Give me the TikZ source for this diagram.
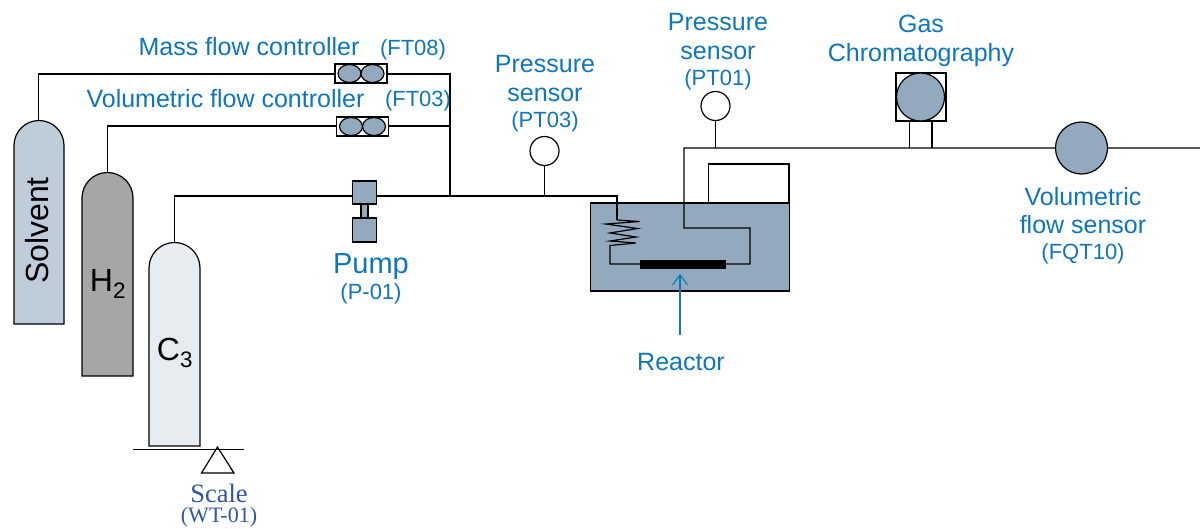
\documentclass[tikz,border=0pt]{standalone}
\usepackage{fontspec}
\setmainfont{Liberation Sans}
\newfontfamily\timesf{Liberation Serif}
\usetikzlibrary{arrows.meta,shapes.geometric}
\definecolor{steel}{HTML}{92A9BE}
\definecolor{solv}{HTML}{BFCDDB}
\definecolor{hyd}{HTML}{A6A6A6}
\definecolor{prop}{HTML}{E7ECF1}
\definecolor{lblue}{HTML}{0F75BD}
\definecolor{sblue}{HTML}{2F55A8}
\newcommand{\fsz}[1]{\fontsize{#1}{#1}\selectfont}
\tikzset{
  pipe/.style={draw=black,line width=1.2pt,line join=miter},
  tank/.style={draw=black,line width=1.2pt},
  valvebox/.style={draw=black,fill=white,line width=1.2pt,rectangle,minimum width=52pt,minimum height=19pt,inner sep=0pt},
  disc/.style={draw=black,fill=steel,line width=1.2pt,ellipse,minimum width=23pt,minimum height=18pt,inner sep=0pt},
  gauge/.style={draw=black,fill=white,line width=1.2pt,circle,minimum size=29pt,inner sep=0pt},
  sblock/.style={draw=black,fill=steel,line width=1.2pt,rectangle,inner sep=0pt},
  big/.style={text=lblue,anchor=base,font=\fsz{25},inner sep=0pt},
  small/.style={text=lblue,anchor=base,font=\fsz{22},inner sep=0pt},
}
\begin{document}
\begin{tikzpicture}[x=1pt,y=-1pt]
\useasboundingbox (0,0) rectangle (1200,528);
% named anchors
\coordinate (solvtop) at (38.5,120.5);
\coordinate (hydtop) at (107.5,173);
\coordinate (proptop) at (174.5,243);
\coordinate (solvcorner) at (38.5,74);
\coordinate (hydcorner) at (107.5,126);
\coordinate (propcorner) at (174.5,196);
\coordinate (m08) at (450,74);
\coordinate (m03) at (450,126);
\coordinate (mjoin) at (450,195);
\coordinate (pt03j) at (544.5,195);
\coordinate (rin) at (617,195);
\coordinate (coilA) at (617,220);
\coordinate (coilC) at (610,264);
\coordinate (outA) at (750,264);
\coordinate (outB) at (750,228);
\coordinate (outC) at (684,228);
\coordinate (outD) at (684,148);
\coordinate (pt01j) at (715.5,148);
\coordinate (legAb) at (909.5,148);
\coordinate (legBb) at (932,148);
\coordinate (end) at (1200,148);
% reactor
\node[sblock,anchor=north west,minimum width=199pt,minimum height=88pt] (reactor) at (589.7,202.4) {};
% pipes
\draw[pipe] (solvtop) -- (solvcorner) -- (m08) -- (mjoin);
\draw[pipe] (hydtop) -- (hydcorner) -- (m03);
\draw[pipe] (proptop) -- (propcorner) -- (rin |- propcorner) -- (rin) -- (coilA);
\draw[pipe] (coilA) -- (639.5,221.5) -- (606,224) -- (637.5,228.5) -- (610,233) -- (636,237) -- (610,241) -- (636,243) -- (610,245.5) -- (coilC) -- (outA) -- (outB) -- (outC) -- (outD) -- (end);
\draw[pipe] (708.5,203) -- (708.5,164) -- (789,164) -- (789,203);
% cylinders
\draw[tank,fill=solv] (14,324) -- (14,145.5) arc[start angle=180,end angle=360,radius=25] -- (64,324) -- cycle;
\draw[tank,fill=hyd] (82,376) -- (82,198) arc[start angle=180,end angle=360,radius=25.5] -- (133,376) -- cycle;
\draw[tank,fill=prop] (149,446) -- (149,268) arc[start angle=180,end angle=360,radius=25.5] -- (200,446) -- cycle;
\node[rotate=90,anchor=base,font=\fsz{32},inner sep=0pt] (solvtxt) at (48.5,230.5) {Solvent};
\node[anchor=base,font=\fsz{32},inner sep=0pt] (h2txt) at (108,291) {H\textsubscript{2}};
\node[anchor=base,font=\fsz{32},inner sep=0pt] (c3txt) at (175,360) {C\textsubscript{3}};
% flow controllers
\node[valvebox] (ft08) at (361,73.5) {};
\node[disc] (ft08a) at (349.5,73.5) {};
\node[disc] (ft08b) at (372.5,73.5) {};
\node[valvebox] (ft03) at (362.5,126.5) {};
\node[disc] (ft03a) at (351,126.5) {};
\node[disc] (ft03b) at (374,126.5) {};
% pump
\node[sblock,minimum width=7pt,minimum height=16pt] (pumpstem) at (364.5,211) {};
\node[sblock,minimum width=24pt,minimum height=23pt] (pumpa) at (364.5,192.5) {};
\node[sblock,minimum width=24pt,minimum height=24pt] (pumpb) at (364.5,230) {};
% sensors
\node[gauge] (pt03) at (544.5,151) {};
\draw[pipe] (pt03) -- (pt03j);
\node[gauge] (pt01) at (715.5,106) {};
\draw[pipe] (pt01) -- (pt01j);
% catalyst bed
\node[fill=black,draw=black,rectangle,minimum width=85pt,minimum height=8pt,inner sep=0pt] (bed) at (682.5,264) {};
% GC
\node[draw=black,fill=white,line width=1.2pt,rectangle,minimum width=50pt,minimum height=48pt,inner sep=0pt] (gcbox) at (921,97) {};
\node[sblock,circle,minimum size=48pt] (gc) at (920.5,97) {};
\coordinate (legAt) at (909.5,121);
\coordinate (legBt) at (932,121);
\draw[pipe] (legAt) -- (legAb);
\draw[pipe] (legBt) -- (legBb);
% volumetric flow sensor
\node[sblock,circle,minimum size=52pt] (fqt) at (1081.5,148) {};
% scale
\coordinate (scaleL) at (133,449.5);
\coordinate (scaleR) at (244,449.5);
\draw[pipe] (scaleL) -- (scaleR);
\draw[pipe] (217.5,447) -- (201.5,473) -- (234,473) -- cycle;
% arrow to reactor
\node[big] (reactorlbl) at (681,370) {Reactor};
\coordinate (arrowtail) at (680,335);
\coordinate (arrowhead) at (680,274);
\draw[draw=lblue,line width=1.1pt,-{Straight Barb[length=10pt,width=15pt]}] (arrowtail) -- (arrowhead);
% labels
\node[big] (l1) at (249,55) {Mass flow controller};
\node[small] (l2) at (413,55) {(FT08)};
\node[big] (l3) at (225.5,107) {Volumetric flow controller};
\node[small] (l4) at (418,106) {(FT03)};
\node[big] (l5) at (545,72) {Pressure};
\node[big] (l6) at (545,101) {sensor};
\node[small] (l7) at (545,127) {(PT03)};
\node[big] (l8) at (718,30) {Pressure};
\node[big] (l9) at (718,59) {sensor};
\node[small] (l10) at (718,85) {(PT01)};
\node[big] (l11) at (921,32) {Gas};
\node[big] (l12) at (921,61) {Chromatography};
\node[big] (l13) at (1083,205) {Volumetric};
\node[big] (l14) at (1083,233) {flow sensor};
\node[small] (l15) at (1083,259) {(FQT10)};
\node[text=lblue,anchor=base,font=\fsz{29},inner sep=0pt] (l16) at (371,273) {Pump};
\node[small] (l17) at (371,299) {(P-01)};
\node[text=sblue,anchor=base,font=\timesf\fsz{26.5},inner sep=0pt] (l18) at (219,502) {Scale};
\node[text=sblue,anchor=base,font=\timesf\fsz{22},inner sep=0pt] (l19) at (219,522.5) {(WT-01)};
\end{tikzpicture}
\end{document}
